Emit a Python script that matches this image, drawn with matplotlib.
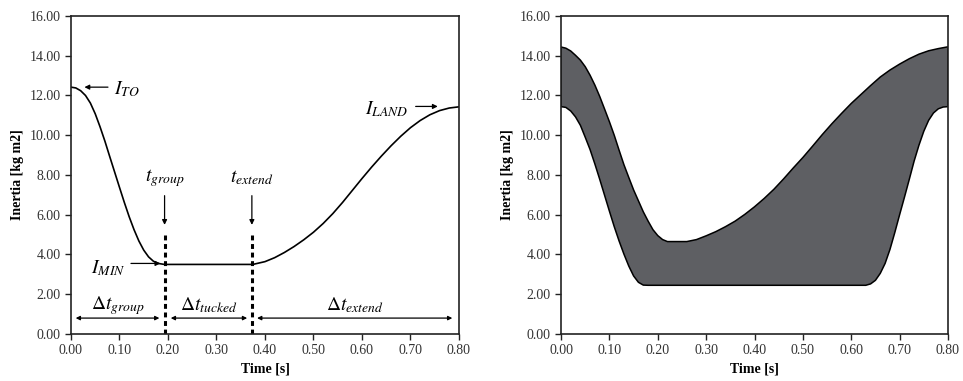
import matplotlib.pyplot as plt

plt.rcParams['font.family'] = ['Liberation Serif', 'DejaVu Serif']
plt.rcParams['mathtext.fontset'] = 'stix'

# left panel: inertia profile
time_l = [0.00, 0.01, 0.02, 0.03, 0.04, 0.05, 0.06, 0.07, 0.08, 0.09, 0.10,
          0.11, 0.12, 0.13, 0.14, 0.15, 0.16, 0.17, 0.18, 0.19, 0.195,
          0.375, 0.40, 0.42, 0.44, 0.46, 0.48, 0.50, 0.52, 0.54, 0.56,
          0.58, 0.60, 0.62, 0.64, 0.66, 0.68, 0.70, 0.72, 0.74, 0.76, 0.78, 0.80]
inertia_l = [12.42, 12.38, 12.24, 12.00, 11.62, 11.08, 10.42, 9.70, 8.92, 8.15, 7.38,
             6.62, 5.90, 5.25, 4.68, 4.22, 3.88, 3.66, 3.55, 3.51, 3.50,
             3.50, 3.64, 3.84, 4.10, 4.40, 4.74, 5.12, 5.56, 6.06, 6.62,
             7.22, 7.82, 8.40, 8.95, 9.47, 9.95, 10.38, 10.74, 11.03, 11.24, 11.37, 11.43]

# right panel: upper and lower envelope
time_up = [0.00, 0.01, 0.02, 0.03, 0.04, 0.05, 0.06, 0.07, 0.08, 0.09, 0.10,
           0.11, 0.12, 0.13, 0.14, 0.15, 0.16, 0.17, 0.18, 0.19, 0.20, 0.21,
           0.22, 0.26, 0.28, 0.30, 0.32, 0.34, 0.36, 0.38, 0.40, 0.42, 0.44,
           0.46, 0.48, 0.50, 0.52, 0.54, 0.56, 0.58, 0.60, 0.62, 0.64, 0.66,
           0.68, 0.70, 0.72, 0.74, 0.76, 0.78, 0.80]
inertia_up = [14.44, 14.38, 14.24, 14.02, 13.78, 13.45, 13.02, 12.52, 11.95, 11.32, 10.68,
              10.00, 9.25, 8.52, 7.88, 7.25, 6.70, 6.15, 5.68, 5.25, 4.95, 4.75,
              4.65, 4.65, 4.75, 4.94, 5.15, 5.40, 5.68, 6.02, 6.40, 6.82, 7.28,
              7.80, 8.35, 8.88, 9.45, 10.03, 10.58, 11.10, 11.60, 12.05, 12.50, 12.93,
              13.28, 13.58, 13.85, 14.08, 14.25, 14.36, 14.45]
time_lo = [0.00, 0.01, 0.02, 0.03, 0.04, 0.05, 0.06, 0.07, 0.08, 0.09, 0.10,
           0.11, 0.12, 0.13, 0.14, 0.15, 0.16, 0.17, 0.18,
           0.63, 0.64, 0.65, 0.66, 0.67, 0.68, 0.69, 0.70, 0.71, 0.72, 0.73,
           0.74, 0.75, 0.76, 0.77, 0.78, 0.79, 0.80]
inertia_lo = [11.44, 11.40, 11.22, 10.92, 10.50, 9.90, 9.28, 8.55, 7.78, 6.98, 6.18,
              5.40, 4.68, 4.02, 3.42, 2.92, 2.60, 2.46, 2.45,
              2.45, 2.52, 2.70, 3.05, 3.55, 4.25, 5.10, 6.00, 6.88, 7.78, 8.70,
              9.50, 10.20, 10.75, 11.12, 11.33, 11.42, 11.44]

xticks = [0.0, 0.1, 0.2, 0.3, 0.4, 0.5, 0.6, 0.7, 0.8]
yticks = [0, 2, 4, 6, 8, 10, 12, 14, 16]

fig = plt.figure(figsize=(9.63, 3.81), dpi=100)
ax1 = fig.add_axes([0.0737, 0.1234, 0.4029, 0.8346])
ax2 = fig.add_axes([0.5826, 0.1234, 0.4018, 0.8346])


def style(ax):
    ax.set_xlim(0, 0.8)
    ax.set_ylim(0, 16)
    ax.set_xticks(xticks)
    ax.set_yticks(yticks)
    ax.set_xticklabels([f'{v:.2f}' for v in xticks])
    ax.set_yticklabels([f'{v:.2f}' for v in yticks])
    ax.tick_params(labelsize=10, length=4, width=1, direction='out', color='#222222',
                   labelcolor='#333333')
    for s in ax.spines.values():
        s.set_linewidth(1.2)
        s.set_color('#222222')
    ax.set_xlabel('Time [s]', fontweight='bold', fontsize=10, labelpad=4)
    ax.set_ylabel('Inertia [kg m2]', fontweight='bold', fontsize=10, labelpad=4)


style(ax1)
style(ax2)

ax1.plot(time_l, inertia_l, color='black', lw=1.2)

arr = dict(arrowstyle='-|>', color='black', lw=0.9, mutation_scale=7)
big = 14

ax1.annotate('', xy=(0.022, 12.42), xytext=(0.082, 12.42), arrowprops=arr)
ax1.text(0.088, 12.3, r'$I_{TO}$', fontsize=big, va='center', ha='left')

ax1.annotate('', xy=(0.762, 11.45), xytext=(0.705, 11.45), arrowprops=arr)
ax1.text(0.695, 11.3, r'$I_{LAND}$', fontsize=big, va='center', ha='right')

ax1.annotate('', xy=(0.190, 3.55), xytext=(0.118, 3.55), arrowprops=arr)
ax1.text(0.112, 3.3, r'$I_{MIN}$', fontsize=big, va='center', ha='right')

for tx, lab in [(0.193, r'$t_{group}$'), (0.373, r'$t_{extend}$')]:
    ax1.text(tx, 7.85, lab, fontsize=big, ha='center', va='center')
    ax1.annotate('', xy=(tx, 5.35), xytext=(tx, 7.1), arrowprops=arr)
    ax1.plot([tx, tx], [0, 5.1], color='black', lw=2.2, linestyle=(0, (1.6, 1.2)))

darr = dict(arrowstyle='<|-|>', color='black', lw=0.9, mutation_scale=6)
spans = [(0.004, 0.188, r'$\mathit{\Delta t_{group}}$'),
         (0.200, 0.369, r'$\mathit{\Delta t_{tucked}}$'),
         (0.378, 0.792, r'$\mathit{\Delta t_{extend}}$')]
for a, b, lab in spans:
    ax1.annotate('', xy=(a, 0.8), xytext=(b, 0.8), arrowprops=darr)
    ax1.text((a + b) / 2, 1.45, lab, fontsize=big, ha='center', va='center')

# band on the right panel
ax2.fill(time_up + time_lo[::-1], inertia_up + inertia_lo[::-1],
         facecolor='#5e5f63', edgecolor='black', lw=1.1)

fig.savefig('out.png', dpi=100)
